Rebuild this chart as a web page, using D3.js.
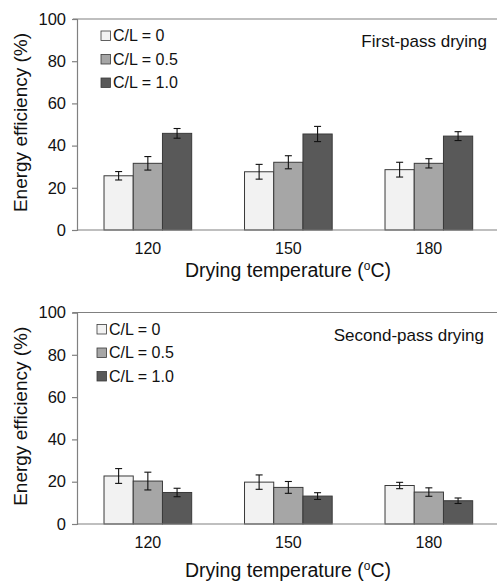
<!DOCTYPE html>
<html>
<head>
<meta charset="utf-8">
<script src="https://cdn.jsdelivr.net/npm/d3@7"></script>
<style>
  html, body { margin: 0; padding: 0; background: #fff; }
  svg { display: block; font-family: "Liberation Sans", Arial, sans-serif; }
</style>
</head>
<body>
<svg id="chart" width="497" height="581"></svg>
<script>
// ---- data ----
const categories = ["120", "150", "180"];
const seriesNames = ["C/L = 0", "C/L = 0.5", "C/L = 1.0"];
const yTicks = [0, 20, 40, 60, 80, 100];

// First-pass drying: mean values per series [120,150,180]
const firstCL0   = [25.7, 27.6, 28.6];
const firstCL05  = [31.6, 32.1, 31.6];
const firstCL10  = [45.8, 45.5, 44.5];
const firstErrCL0  = [2.0, 3.5, 3.5];
const firstErrCL05 = [3.2, 3.1, 2.2];
const firstErrCL10 = [2.3, 3.6, 2.1];

// Second-pass drying
const secondCL0   = [22.7, 19.8, 18.2];
const secondCL05  = [20.3, 17.3, 15.1];
const secondCL10  = [14.9, 13.2, 11.0];
const secondErrCL0  = [3.5, 3.4, 1.5];
const secondErrCL05 = [4.2, 2.8, 2.0];
const secondErrCL10 = [2.0, 1.6, 1.3];

const panels = [
  { title: "First-pass drying",
    values: [firstCL0, firstCL05, firstCL10],
    errors: [firstErrCL0, firstErrCL05, firstErrCL10],
    top: 19, bottom: 230, legendX: 101, titleX: 487, titleY: 47,
    tickY: 254, xTitleY: 277 },
  { title: "Second-pass drying",
    values: [secondCL0, secondCL05, secondCL10],
    errors: [secondErrCL0, secondErrCL05, secondErrCL10],
    top: 312.5, bottom: 524, legendX: 97, titleX: 484, titleY: 340.5,
    tickY: 547.5, xTitleY: 576.5 }
];

const fills = ["#f2f2f2", "#a6a6a6", "#595959"];
const barStroke = "#3a3a3a";
const axisColor = "#808080";

const svg = d3.select("#chart");
const left = 77, right = 497;

const x0 = d3.scaleBand().domain(categories).range([77.6, 499.1])
  .paddingInner(0.376).paddingOuter(0.188);
const x1 = d3.scaleBand().domain(d3.range(seriesNames.length)).range([0, x0.bandwidth()]);

panels.forEach(p => {
  const g = svg.append("g");
  const y = d3.scaleLinear().domain([0, 100]).range([p.bottom, p.top]);

  // top border line
  g.append("line")
    .attr("x1", left - 4).attr("x2", right)
    .attr("y1", y(100)).attr("y2", y(100))
    .attr("stroke", axisColor).attr("stroke-width", 1.2);

  // y axis
  const yAxis = d3.axisLeft(y).tickValues(yTicks).tickSize(5).tickPadding(6);
  const ya = g.append("g").attr("transform", `translate(${left},0)`).call(yAxis);
  ya.select(".domain").attr("stroke", axisColor).attr("stroke-width", 1.2);
  ya.selectAll(".tick line").attr("stroke", axisColor).attr("stroke-width", 1.2);
  ya.selectAll(".tick text").attr("fill", "#111").style("font-size", "16.5px")
    .style("font-family", "Liberation Sans, Arial, sans-serif");

  // bars
  categories.forEach((c, ci) => {
    seriesNames.forEach((s, si) => {
      const v = p.values[si][ci];
      const e = p.errors[si][ci];
      const bx = x0(c) + x1(si);
      g.append("rect")
        .attr("x", bx).attr("y", y(v))
        .attr("width", x1.bandwidth()).attr("height", y(0) - y(v))
        .attr("fill", fills[si]).attr("stroke", barStroke).attr("stroke-width", 1);
      const cx = bx + x1.bandwidth() / 2;
      const eg = g.append("g").attr("stroke", "#111").attr("stroke-width", 1.1);
      eg.append("line").attr("x1", cx).attr("x2", cx).attr("y1", y(v + e)).attr("y2", y(v - e));
      eg.append("line").attr("x1", cx - 3.5).attr("x2", cx + 3.5).attr("y1", y(v + e)).attr("y2", y(v + e));
      eg.append("line").attr("x1", cx - 3.5).attr("x2", cx + 3.5).attr("y1", y(v - e)).attr("y2", y(v - e));
    });
  });

  // x axis line
  g.append("line")
    .attr("x1", left).attr("x2", right)
    .attr("y1", y(0)).attr("y2", y(0))
    .attr("stroke", axisColor).attr("stroke-width", 1.2);

  // x tick labels
  const xAxis = d3.axisBottom(x0).tickSize(0).tickPadding(0);
  const xa = g.append("g").attr("transform", `translate(0,${p.tickY})`).call(xAxis);
  xa.select(".domain").remove();
  xa.selectAll(".tick text").attr("dy", null).attr("y", 0)
    .attr("fill", "#111").style("font-size", "16px")
    .style("font-family", "Liberation Sans, Arial, sans-serif");

  // x title
  const xt = g.append("text")
    .attr("x", 288).attr("y", p.xTitleY)
    .attr("text-anchor", "middle").attr("fill", "#111")
    .style("font-size", "19.5px");
  xt.append("tspan").text("Drying temperature (");
  xt.append("tspan").text("o").style("font-size", "12px").attr("dy", -7);
  xt.append("tspan").text("C)").attr("dy", 7);

  // y title
  g.append("text")
    .attr("transform", `translate(27,${(p.top + p.bottom) / 2 - 2}) rotate(-90)`)
    .attr("text-anchor", "middle").attr("fill", "#111")
    .style("font-size", "19px")
    .text("Energy efficiency (%)");

  // panel label
  g.append("text")
    .attr("x", p.titleX).attr("y", p.titleY)
    .attr("text-anchor", "end").attr("fill", "#111")
    .style("font-size", "17px")
    .text(p.title);

  // legend
  const lg = g.append("g");
  seriesNames.forEach((s, si) => {
    const ly = p.top + 16.5 + si * 23.5;
    lg.append("rect")
      .attr("x", p.legendX).attr("y", ly - 4.5)
      .attr("width", 9.5).attr("height", 9.5)
      .attr("fill", fills[si]).attr("stroke", barStroke).attr("stroke-width", 0.8);
    lg.append("text")
      .attr("x", p.legendX + 12).attr("y", ly + 5.8)
      .attr("fill", "#111").style("font-size", "16px")
      .text(s);
  });
});
</script>
</body>
</html>
